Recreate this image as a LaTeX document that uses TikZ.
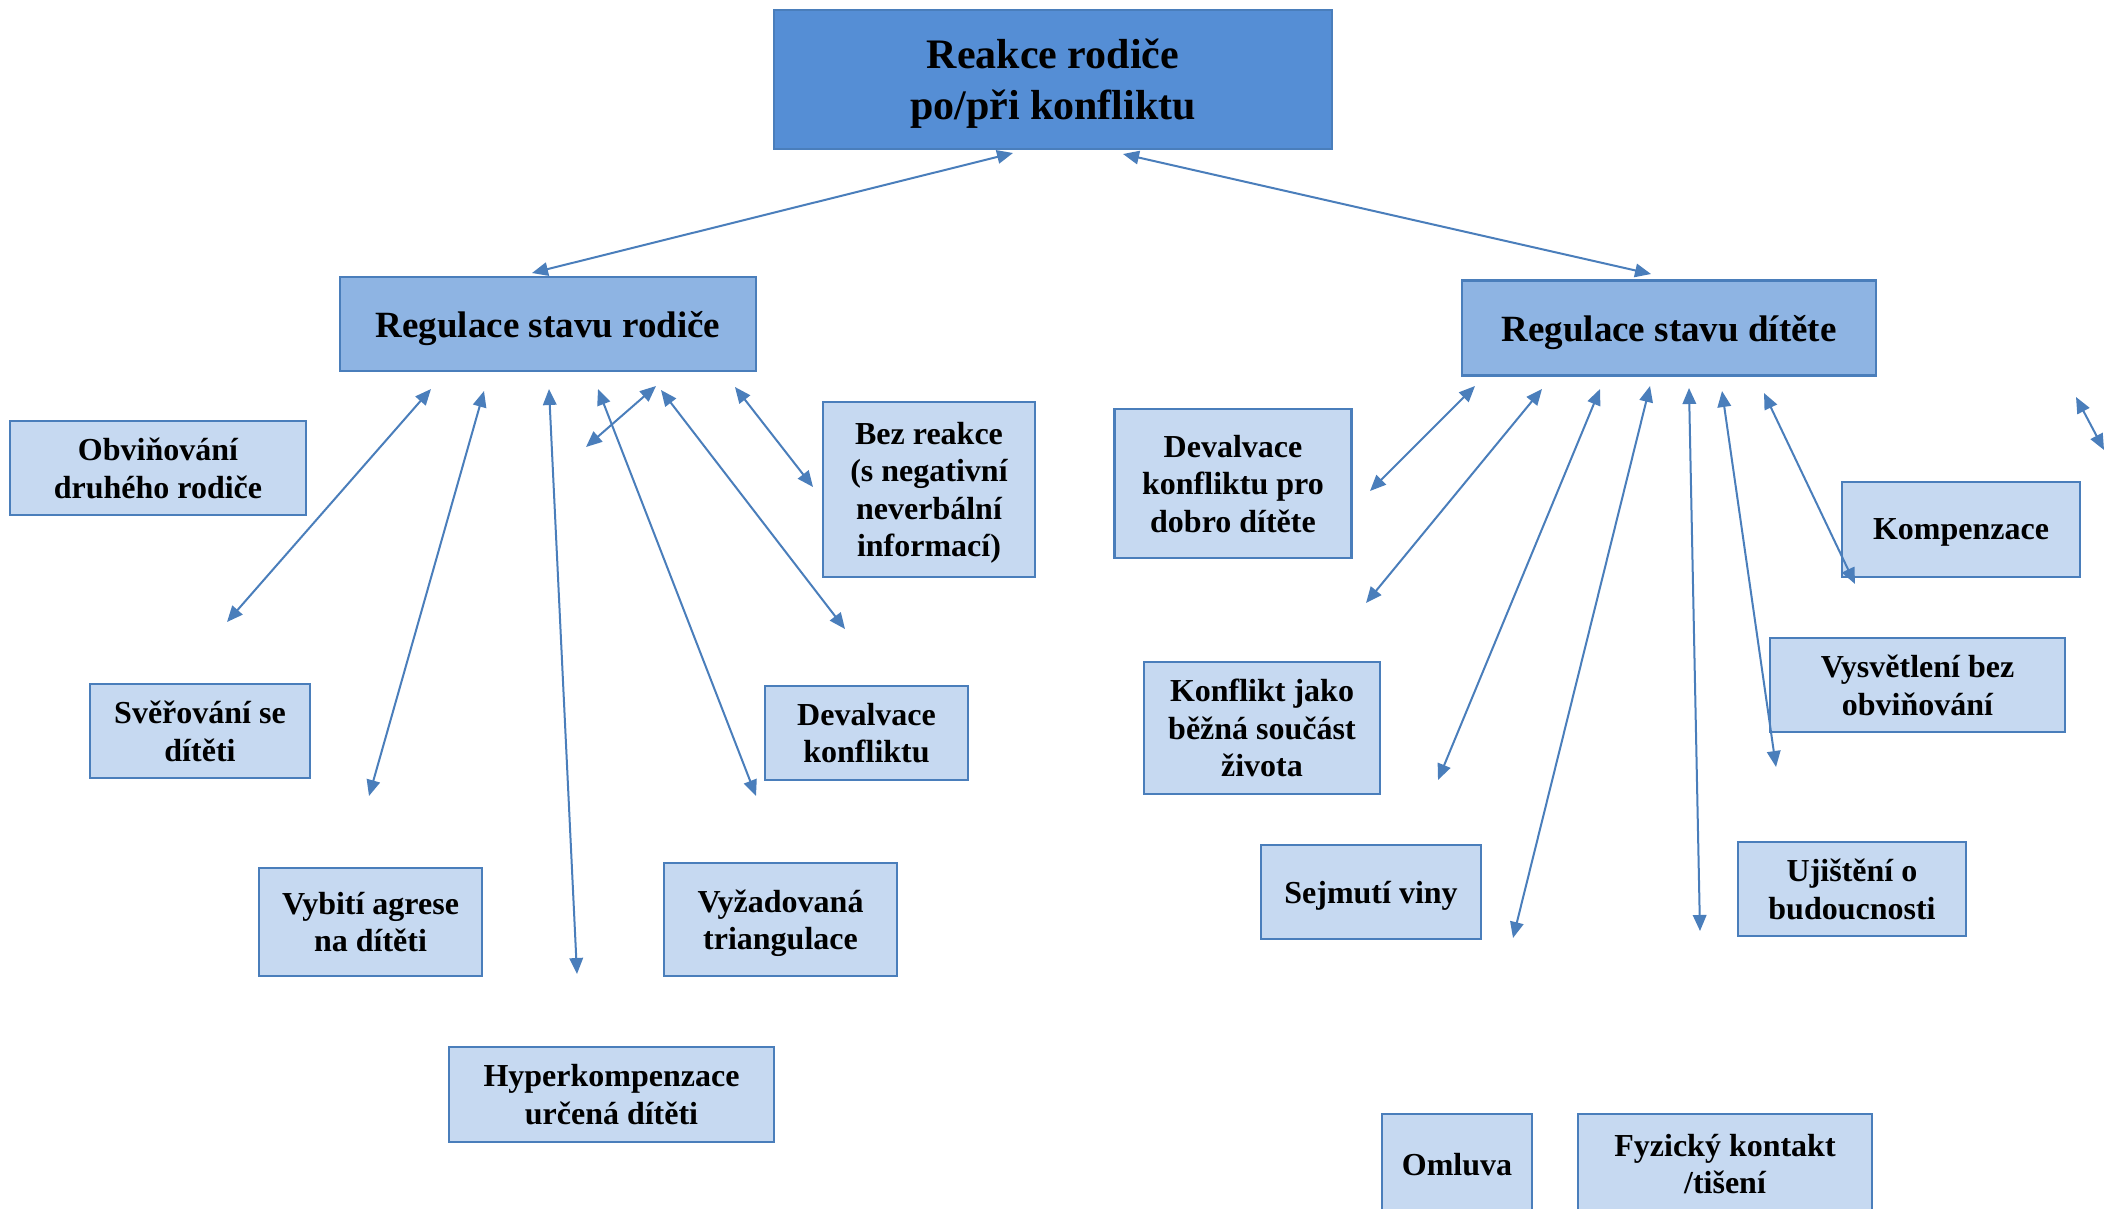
\documentclass[tikz,border=0pt]{standalone}
\usepackage{fontspec}
\setmainfont{Liberation Serif}
\usetikzlibrary{arrows.meta}
\definecolor{topfill}{HTML}{558ED5}
\definecolor{midfill}{HTML}{8EB4E3}
\definecolor{leaffill}{HTML}{C6D9F1}
\definecolor{edgeblue}{HTML}{4A7EBB}
\begin{document}
\begin{tikzpicture}[x=1pt,y=-1pt,
  box/.style={draw=edgeblue, line width=2.5pt, inner sep=0pt, align=center, text depth=0pt},
  topbox/.style={box, fill=topfill, font=\fontsize{42}{51}\selectfont\bfseries},
  midbox/.style={box, fill=midfill, font=\fontsize{37}{44}\selectfont\bfseries},
  leaf/.style={box, fill=leaffill, font=\fontsize{32}{37.5}\selectfont\bfseries},
  link/.style={draw=edgeblue, line width=2pt,
    {Triangle[length=16pt,width=13.5pt]}-{Triangle[length=16pt,width=13.5pt]}}]

\useasboundingbox (0,0) rectangle (2108,1208);
\fill[white] (0,0) rectangle (2108,1208);
\clip (0,0) rectangle (2108,1208);

% main boxes
\node[topbox, minimum width=558pt, minimum height=139pt] (top) at (1053,79.5) {Reakce rodiče\\po/při konfliktu};
\node[midbox, minimum width=416pt, minimum height=94pt] (rp) at (548,324) {Regulace stavu rodiče};
\node[midbox, minimum width=414pt, minimum height=95pt] (rd) at (1669,328) {Regulace stavu dítěte};

% parent's own regulation
\node[leaf, minimum width=296pt, minimum height=94pt] (obv) at (158,468) {Obviňování\\druhého rodiče};
\node[leaf, minimum width=220pt, minimum height=94pt] (sver) at (200,731) {Svěřování se\\dítěti};
\node[leaf, minimum width=223pt, minimum height=108pt] (vybiti) at (370.5,922) {Vybití agrese\\na dítěti};
\node[leaf, minimum width=325pt, minimum height=95pt] (hyper) at (611.5,1094.5) {Hyperkompenzace\\určená dítěti};
\node[leaf, minimum width=233pt, minimum height=113pt] (vyzad) at (780.5,919.5) {Vyžadovaná\\triangulace};
\node[leaf, minimum width=203pt, minimum height=94pt] (devk) at (866.5,733) {Devalvace\\konfliktu};
\node[leaf, minimum width=212pt, minimum height=175pt] (bez) at (929,489.5) {Bez reakce\\(s negativní\\neverbální\\informací)};

% child's regulation
\node[leaf, minimum width=237pt, minimum height=149pt] (devd) at (1233,483.5) {Devalvace\\konfliktu pro\\dobro dítěte};
\node[leaf, minimum width=236pt, minimum height=132pt] (konf) at (1262,728) {Konflikt jako\\běžná součást\\života};
\node[leaf, minimum width=220pt, minimum height=94pt] (sejm) at (1371,892) {Sejmutí viny};
\node[leaf, minimum width=238pt, minimum height=95pt] (komp) at (1961,529.5) {Kompenzace};
\node[leaf, minimum width=295pt, minimum height=94pt] (vysv) at (1917.5,685) {Vysvětlení bez\\obviňování};
\node[leaf, minimum width=228pt, minimum height=94pt] (ujist) at (1852,889) {Ujištění o\\budoucnosti};
\node[leaf, minimum width=150pt, minimum height=100pt] (oml) at (1457,1164) {Omluva};
\node[leaf, minimum width=294pt, minimum height=100pt] (fyz) at (1725,1164) {Fyzický kontakt\\/tišení};

% arrow end points
\coordinate (t1) at (1013,153);  \coordinate (t2) at (532,273);
\coordinate (t3) at (1123,154);  \coordinate (t4) at (1651,274);

\coordinate (p1a) at (431,389);  \coordinate (p1b) at (227,622);
\coordinate (p2a) at (484,391);  \coordinate (p2b) at (369,796);
\coordinate (p3a) at (549,389);  \coordinate (p3b) at (577,974);
\coordinate (p4a) at (598,389);  \coordinate (p4b) at (756,796);
\coordinate (p5a) at (656,386);  \coordinate (p5b) at (586,447);
\coordinate (p6a) at (661,390);  \coordinate (p6b) at (845,629);
\coordinate (p7a) at (735,387);  \coordinate (p7b) at (813,487);

\coordinate (c1a) at (1475,386); \coordinate (c1b) at (1370,491);
\coordinate (c2a) at (1542,389); \coordinate (c2b) at (1366,603);
\coordinate (c3a) at (1600,389); \coordinate (c3b) at (1438,780);
\coordinate (c4a) at (1650,386); \coordinate (c4b) at (1513,938);
\coordinate (c5a) at (1689,388); \coordinate (c5b) at (1700,931);
\coordinate (c6a) at (1722,391); \coordinate (c6b) at (1776,767);
\coordinate (c7a) at (1764,393); \coordinate (c7b) at (1855,584);
\coordinate (c8a) at (2076,397); \coordinate (c8b) at (2104,450);

% connectors
\draw[link] (t1) -- (t2);
\draw[link] (t3) -- (t4);
\foreach \k in {1,...,7} { \draw[link] (p\k a) -- (p\k b); }
\foreach \k in {1,...,8} { \draw[link] (c\k a) -- (c\k b); }
\end{tikzpicture}
\end{document}
